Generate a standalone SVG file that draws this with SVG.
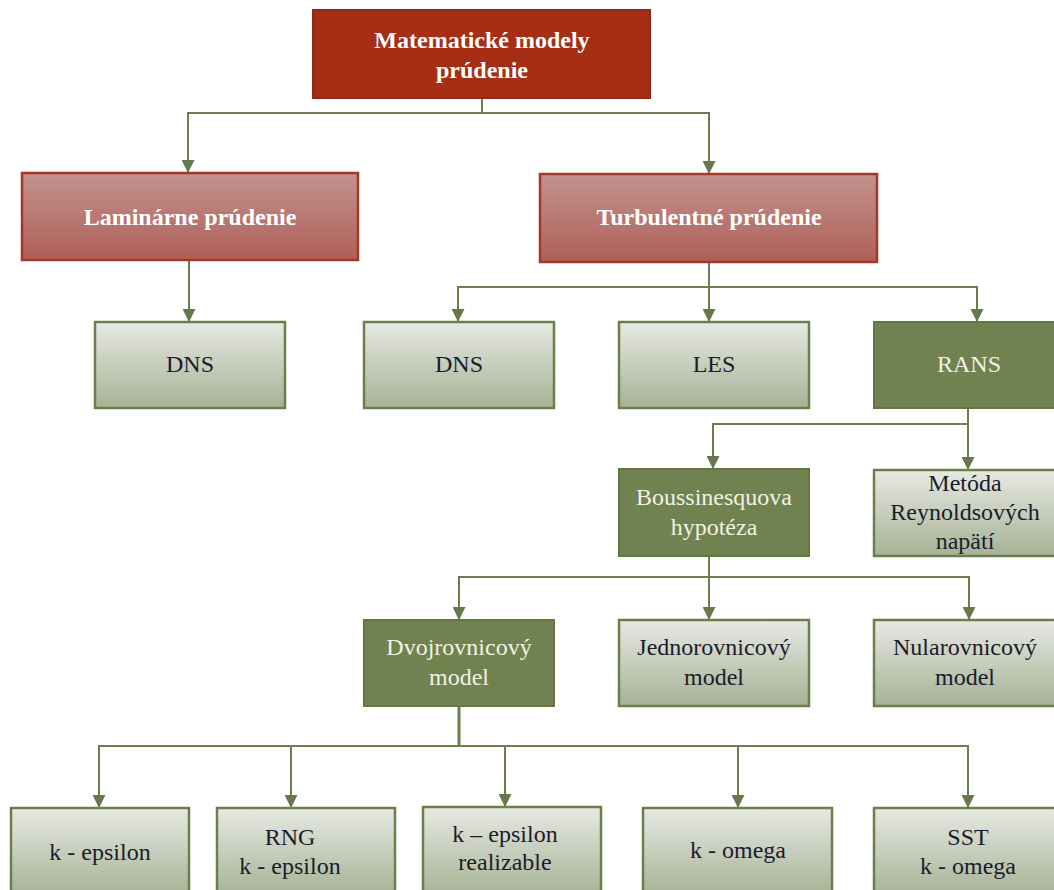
<svg xmlns="http://www.w3.org/2000/svg" width="1054" height="890" viewBox="0 0 1054 890">
<defs>
<linearGradient id="gLight" x1="0" y1="0" x2="0" y2="1">
<stop offset="0" stop-color="#e7e9e3"/>
<stop offset="1" stop-color="#a6b294"/>
</linearGradient>
<linearGradient id="gPink" x1="0" y1="0" x2="0" y2="1">
<stop offset="0" stop-color="#c4928e"/>
<stop offset="1" stop-color="#ae5f57"/>
</linearGradient>
<marker id="arr" markerWidth="13" markerHeight="13" refX="13" refY="6.5" orient="auto" markerUnits="userSpaceOnUse">
<path d="M0,0 L13,6.5 L0,13 z" fill="#66794a"/>
</marker>
<style>
.top{fill:#a52e15;stroke:#8e2a18;stroke-width:2}
.pink{fill:url(#gPink);stroke:#a3382a;stroke-width:2.5}
.light{fill:url(#gLight);stroke:#6b7f4c;stroke-width:2.5}
.dark{fill:#6f824f;stroke:#63763f;stroke-width:2}
.tb{font-family:"Liberation Serif","Times New Roman",serif;font-weight:bold;font-size:24px;fill:#ffffff;text-anchor:middle}
.tn{font-family:"Liberation Serif","Times New Roman",serif;font-size:24px;fill:#1b1b2e;text-anchor:middle}
.tw{font-family:"Liberation Serif","Times New Roman",serif;font-size:24px;fill:#f2f1e4;text-anchor:middle}
.c{fill:none;stroke:#6b7f4c;stroke-width:2;marker-end:url(#arr)}
</style>
</defs>
<rect width="1054" height="890" fill="#ffffff"/>
<g id="connectors">
<path class="c" d="M482,98 V113 H188 V173"/>
<path class="c" d="M482,113 H709 V174"/>
<path class="c" d="M189,260 V322"/>
<path class="c" d="M709,262 V287 H458 V322"/>
<path class="c" d="M709,287 V322"/>
<path class="c" d="M709,287 H977 V322"/>
<path class="c" d="M968,408 V424 H713 V469"/>
<path class="c" d="M968,424 V470"/>
<path class="c" d="M709,556 V577 H459 V620"/>
<path class="c" d="M709,577 V620"/>
<path class="c" d="M709,577 H969 V620"/>
<path fill="none" stroke="#6b7f4c" stroke-width="3" d="M459,706 V746"/>
<path class="c" d="M459,746 H99 V808"/>
<path class="c" d="M291,746 V808"/>
<path class="c" d="M459,746 H505 V807"/>
<path class="c" d="M505,746 H738 V808"/>
<path class="c" d="M738,746 H968 V808"/>
</g>
<g id="n-mat">
<rect class="top" x="313" y="10" width="337" height="88"/>
<text class="tb" x="482" y="48">Matematické modely</text>
<text class="tb" x="482" y="78">prúdenie</text>
</g>
<g id="n-lam">
<rect class="pink" x="22" y="173" width="336" height="87"/>
<text class="tb" x="190" y="225">Laminárne prúdenie</text>
</g>
<g id="n-turb">
<rect class="pink" x="540" y="174" width="337" height="88"/>
<text class="tb" x="709" y="225">Turbulentné prúdenie</text>
</g>
<g id="n-dns1">
<rect class="light" x="95" y="322" width="190" height="86"/>
<text class="tn" x="190" y="372">DNS</text>
</g>
<g id="n-dns2">
<rect class="light" x="364" y="322" width="190" height="86"/>
<text class="tn" x="459" y="372">DNS</text>
</g>
<g id="n-les">
<rect class="light" x="619" y="322" width="190" height="86"/>
<text class="tn" x="714" y="372">LES</text>
</g>
<g id="n-rans">
<rect class="dark" x="874" y="322" width="190" height="86"/>
<text class="tw" x="969" y="372">RANS</text>
</g>
<g id="n-bous">
<rect class="dark" x="619" y="469" width="190" height="87"/>
<text class="tw" x="714" y="505">Boussinesquova</text>
<text class="tw" x="714" y="535">hypotéza</text>
</g>
<g id="n-met">
<rect class="light" x="874" y="470" width="190" height="86"/>
<text class="tn" x="965" y="491">Metóda</text>
<text class="tn" x="965" y="520">Reynoldsových</text>
<text class="tn" x="965" y="549">napätí</text>
</g>
<g id="n-dvoj">
<rect class="dark" x="364" y="620" width="190" height="86"/>
<text class="tw" x="459" y="655">Dvojrovnicový</text>
<text class="tw" x="459" y="685">model</text>
</g>
<g id="n-jedn">
<rect class="light" x="619" y="620" width="190" height="86"/>
<text class="tn" x="714" y="655">Jednorovnicový</text>
<text class="tn" x="714" y="685">model</text>
</g>
<g id="n-nul">
<rect class="light" x="874" y="620" width="190" height="86"/>
<text class="tn" x="965" y="655">Nularovnicový</text>
<text class="tn" x="965" y="685">model</text>
</g>
<g id="n-ke">
<rect class="light" x="11" y="808" width="178" height="88"/>
<text class="tn" x="100" y="860">k - epsilon</text>
</g>
<g id="n-rng">
<rect class="light" x="217" y="808" width="178" height="88"/>
<text class="tn" x="290" y="845">RNG</text>
<text class="tn" x="290" y="874">k - epsilon</text>
</g>
<g id="n-real">
<rect class="light" x="423" y="807" width="178" height="89"/>
<text class="tn" x="505" y="842">k – epsilon</text>
<text class="tn" x="505" y="870">realizable</text>
</g>
<g id="n-kw">
<rect class="light" x="643" y="808" width="189" height="88"/>
<text class="tn" x="738" y="858">k - omega</text>
</g>
<g id="n-sst">
<rect class="light" x="874" y="808" width="190" height="88"/>
<text class="tn" x="968" y="845">SST</text>
<text class="tn" x="968" y="874">k - omega</text>
</g>
</svg>
